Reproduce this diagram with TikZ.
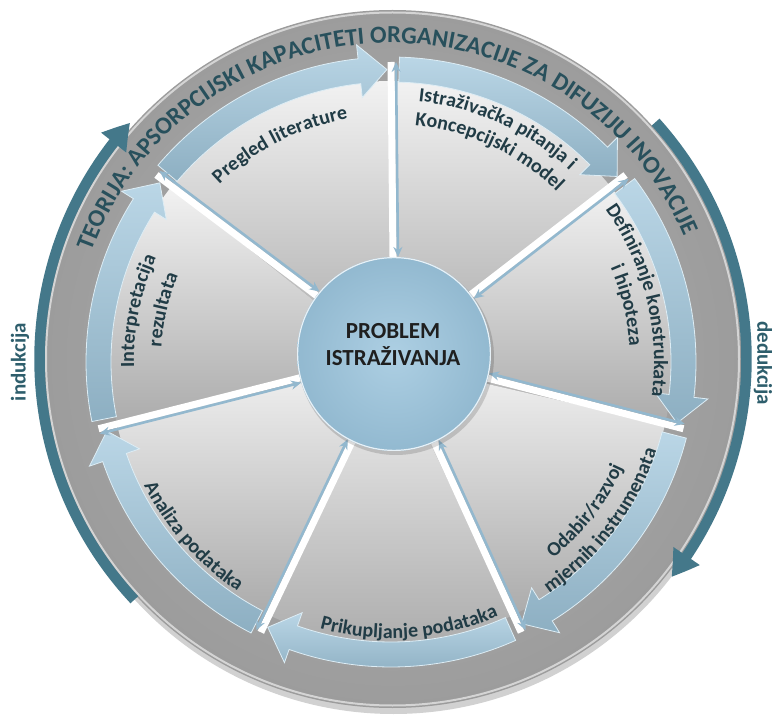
\documentclass[tikz,border=0pt]{standalone}
\usepackage{fontspec}
\setmainfont{Carlito}
\usetikzlibrary{arrows.meta,bending,decorations.text,calc}
\definecolor{discin}{HTML}{B3B3B3}
\definecolor{discout}{HTML}{9C9C9C}
\definecolor{rimc}{HTML}{D4D4D4}
\definecolor{darkarc}{HTML}{44788A}
\definecolor{secT}{HTML}{F2F2F2}
\definecolor{secB}{HTML}{ABABAB}
\definecolor{arrT}{HTML}{BAD6E6}
\definecolor{arrB}{HTML}{8DAFC2}
\definecolor{arrE}{HTML}{DDEDF5}
\definecolor{spokeblue}{HTML}{93B8CE}
\definecolor{circin}{HTML}{ADCFE3}
\definecolor{circout}{HTML}{92B9D0}
\definecolor{lbl}{HTML}{213C46}
\definecolor{ttl}{HTML}{28505C}
\definecolor{sidec}{HTML}{2E5E6C}
\newcommand\lblfont{\bfseries\fontsize{20}{24}\selectfont\color{lbl}}
\newcommand\ttlfont{\bfseries\fontsize{24.5}{28}\selectfont\color{ttl}}
\newcommand\cwtext[4]{\path[decorate,decoration={text along path,text align=center,text={|#4|#3}}] (#1+75:#2) arc[start angle=#1+75,end angle=#1-75,radius=#2];}
\newcommand\ccwtext[4]{\path[decorate,decoration={text along path,text align=center,text={|#4|#3}}] (#1-75:#2) arc[start angle=#1-75,end angle=#1+75,radius=#2];}
\tikzset{
  darkband/.style={line width=10.5pt,darkarc},
  ringarrow/.style={top color=arrT,bottom color=arrB,draw=arrE,line width=0.8pt},
  spokewhite/.style={white,line width=7pt},
  spokearrow/.style={spokeblue,line width=2.6pt,{Stealth[length=10pt,width=9pt]}-{Stealth[length=10pt,width=9pt]}},
  sidetext/.style={font=\bfseries\fontsize{21}{24}\selectfont,text=sidec}
}
\begin{document}
\begin{tikzpicture}[x=1pt,y=1pt]
\useasboundingbox (0,0) rectangle (777,716);
\begin{scope}[shift={(391,354)}]
  % invisible node for the central circle (used as connector target)
  \node[circle,minimum size=194,inner sep=0pt,outer sep=0pt] (P) at (3,8) {};
  % big disc
  \fill[black,opacity=0.18] (2.5,-2) circle (350);
  \shade[inner color=discin,outer color=discout] (1.5,3) circle (349);
  \draw[rimc,line width=2pt] (1.5,3) circle (346.5);
  % induction / deduction arcs
  \begin{scope}[shift={(1.5,3)}]
    \draw[darkband,-{Triangle[length=26pt,width=30pt,bend]}] (223:353) arc[start angle=223,end angle=138,radius=353];
    \draw[darkband,-{Triangle[length=26pt,width=30pt,bend]}] (42:354) arc[start angle=42,end angle=-38,radius=354];
  \end{scope}
  % sectors
  \foreach \k in {0,...,6}{
    \pgfmathsetmacro\A{90-\k*360/7}
    \pgfmathsetmacro\B{\A-360/7}
    \shade[top color=secT,bottom color=secB] (0,0) -- (\A:281) arc[start angle=\A,end angle=\B,radius=281] -- cycle;
  }
  % white spokes
  \foreach \k in {0,...,6}{
    \pgfmathsetmacro\T{90-\k*360/7}
    \coordinate (o\k) at (\T:300);
    \draw[spokewhite] (o\k) -- (P);
  }
  % ring arrows
  \foreach \k in {0,...,6}{
    \pgfmathsetmacro\A{90-\k*360/7}
    \pgfmathsetmacro\B{\A-360/7}
    \pgfmathsetmacro\a{\A-1.6}
    \pgfmathsetmacro\b{\B+6.2}
    \pgfmathsetmacro\t{\B+0.8}
    \shadedraw[ringarrow] (\a:305) arc[start angle=\a,end angle=\b,radius=305] -- (\b:319) -- (\t:292.5) -- (\b:266) -- (\b:280) arc[start angle=\b,end angle=\a,radius=280] -- cycle;
  }
  % blue double arrows along spokes
  \foreach \k/\ang/\angb in {0/90/-90,1/90/-90,2/-90/90,3/-90/90,4/90/-90,5/-90/90,6/90/-90}{
    \coordinate (e\k) at ($(P)!97pt!(o\k)$);
    \coordinate (os\k) at ($(o\k)!5pt!\ang:(P)$);
    \coordinate (es\k) at ($(e\k)!5pt!\angb:(o\k)$);
    \draw[spokearrow] (os\k) -- (es\k);
  }
  % central circle
  \fill[black,opacity=0.15] ($(P)+(2,-3)$) circle (98);
  \shade[inner color=circin,outer color=circout] (P) circle (97);
  \draw[white!70!circin,line width=1.2pt] (P) circle (96.4);
  \node[font=\bfseries\fontsize{23}{27}\selectfont,align=center,text=black!88] (ptext) at ($(P)+(-1,9)$) {PROBLEM\\ISTRAŽIVANJA};
  % sector labels
  \cwtext{117}{247}{Pregled literature}{\lblfont}
  \cwtext{65.5}{262}{Istraživačka pitanja i}{\lblfont}
  \cwtext{65}{238}{Koncepcijski model}{\lblfont}
  \cwtext{14}{263}{Definiranje konstrukata}{\lblfont}
  \cwtext{13.5}{239}{i hipoteza}{\lblfont}
  \ccwtext{-37.5}{255}{Odabir/razvoj}{\lblfont}
  \ccwtext{-37}{280}{mjernih instrumenata}{\lblfont}
  \ccwtext{-86}{276}{Prikupljanje podataka}{\lblfont}
  \ccwtext{221.4}{276}{Analiza podataka}{\lblfont}
  \cwtext{168.6}{257}{Interpretacija}{\lblfont}
  \cwtext{167}{230}{rezultata}{\lblfont}
  % title along the grey ring
  \cwtext{91.5}{319}{TEORIJA: APSORPCIJSKI KAPACITETI ORGANIZACIJE ZA DIFUZIJU INOVACIJE}{\ttlfont}
  % side words
  \node[sidetext,rotate=90] (ind) at (-371,0) {indukcija};
  \node[sidetext,rotate=-90] (ded) at (372,-1) {dedukcija};
\end{scope}
\end{tikzpicture}
\end{document}
